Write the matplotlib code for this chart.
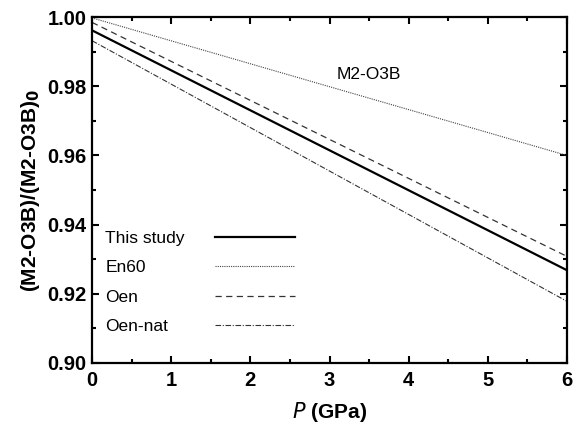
import numpy as np
import matplotlib.pyplot as plt
from matplotlib.ticker import MultipleLocator

plt.rcParams['font.family'] = ['Liberation Sans', 'DejaVu Sans']

# pressure (GPa) and normalised M2-O3B bond length
pressure = [0, 6]
this_study = [0.9962, 0.9268]
en60 = [0.9998, 0.9600]
oen = [0.9985, 0.9308]
oen_nat = [0.9932, 0.9178]

labels = ['This study', 'En60', 'Oen', 'Oen-nat']

fig = plt.figure(figsize=(5.73, 4.30), dpi=100)
ax = fig.add_axes([0.1606, 0.156, 0.829, 0.804])

ax.plot(pressure, this_study, color='black', lw=1.6, ls='-', label=labels[0])
ax.plot(pressure, en60, color='#444444', lw=0.8, ls=(0, (1, 1)), label=labels[1])
ax.plot(pressure, oen, color='#333333', lw=0.9, ls=(0, (5, 3.5)), label=labels[2])
ax.plot(pressure, oen_nat, color='#333333', lw=0.8, ls=(0, (5, 1.5, 1, 1.5)), label=labels[3])

ax.set_xlim(0, 6)
ax.set_ylim(0.90, 1.00)
ax.xaxis.set_major_locator(MultipleLocator(1))
ax.xaxis.set_minor_locator(MultipleLocator(0.5))
ax.yaxis.set_major_locator(MultipleLocator(0.02))
ax.yaxis.set_minor_locator(MultipleLocator(0.01))
ax.yaxis.set_major_formatter(plt.FormatStrFormatter('%.2f'))
ax.tick_params(which='both', direction='in', top=True, right=True, width=1.5)
ax.tick_params(which='major', length=5, labelsize=14.5, pad=4)
ax.tick_params(axis='x', which='major', pad=6)
ax.tick_params(which='minor', length=3)
for lab in ax.get_xticklabels() + ax.get_yticklabels():
    lab.set_fontweight('bold')
for s in ax.spines.values():
    s.set_linewidth(1.6)

ax.set_xlabel('$\\mathit{P}$ (GPa)', fontsize=15, fontweight='bold', labelpad=7)
ax.set_ylabel('(M2-O3B)/(M2-O3B)$_\\mathbf{0}$', fontsize=15, fontweight='bold', labelpad=4)

ax.text(3.5, 0.9835, 'M2-O3B', fontsize=12.5, ha='center', va='center')

leg = ax.legend(loc='upper left', bbox_to_anchor=(0.028, 0.383), frameon=False,
                markerfirst=False, fontsize=12.5, handlelength=4.6,
                labelspacing=0.83, borderpad=0, borderaxespad=0)
# keep labels left-aligned and handles in one column
for col in leg._legend_handle_box.get_children():
    for item in col.get_children():
        item.mode = 'expand'
        item.width = 190

fig.savefig('out.png', dpi=100)
